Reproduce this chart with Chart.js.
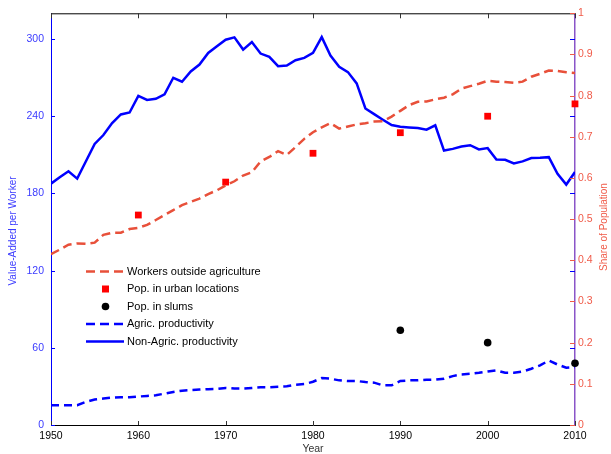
<!DOCTYPE html>
<html>
<head>
<meta charset="utf-8">
<title>Value added per worker and share of population</title>
<script src="https://cdn.jsdelivr.net/npm/chart.js@4.4.1/dist/chart.umd.min.js"></script>
<style>
  html, body { margin: 0; padding: 0; background: #fff; }
  canvas { display: block; }
</style>
</head>
<body>
<canvas id="chart" width="611" height="454"></canvas>
<script>
// ---- data ----
const years = [1950, 1951, 1952, 1953, 1954, 1955, 1956, 1957, 1958, 1959,
               1960, 1961, 1962, 1963, 1964, 1965, 1966, 1967, 1968, 1969,
               1970, 1971, 1972, 1973, 1974, 1975, 1976, 1977, 1978, 1979,
               1980, 1981, 1982, 1983, 1984, 1985, 1986, 1987, 1988, 1989,
               1990, 1991, 1992, 1993, 1994, 1995, 1996, 1997, 1998, 1999,
               2000, 2001, 2002, 2003, 2004, 2005, 2006, 2007, 2008, 2009,
               2010];

// value added per worker, left axis
const nonAgricProd = [187.6, 192.5, 197.2, 191.5, 205.0, 218.5, 225.4, 234.7, 241.4, 242.9,
                      255.8, 252.7, 253.5, 257.0, 269.9, 266.8, 274.8, 280.2, 289.2, 294.4,
                      299.5, 301.3, 291.8, 297.7, 288.7, 286.1, 278.9, 279.4, 283.5, 285.3,
                      289.2, 301.5, 287.1, 278.4, 274.3, 265.5, 246.0, 241.6, 237.3, 233.1,
                      231.9, 231.3, 230.8, 229.5, 232.9, 213.3, 214.6, 216.4, 217.5, 214.2,
                      215.2, 206.4, 206.1, 203.3, 204.9, 207.5, 207.7, 208.2, 195.3, 186.9,
                      196.7];
const agricProd = [15.4, 15.4, 15.4, 15.4, 18.0, 19.8, 20.6, 21.3, 21.6, 21.6,
                   22.1, 22.6, 23.1, 24.4, 25.7, 26.7, 27.2, 27.5, 27.8, 28.0,
                   28.8, 28.3, 28.3, 28.8, 29.3, 29.3, 29.8, 30.1, 31.3, 31.8,
                   33.6, 36.5, 36.0, 34.7, 34.2, 34.2, 33.4, 32.9, 30.8, 30.8,
                   34.2, 34.7, 34.7, 35.2, 35.2, 36.0, 38.0, 39.3, 39.8, 40.6,
                   41.6, 42.4, 40.6, 40.6, 41.6, 43.7, 46.3, 50.1, 47.0, 44.5,
                   45.0];

// shares of population, right axis
const workersOutsideAgri = [0.415, 0.426, 0.438, 0.441, 0.440, 0.443, 0.462, 0.467, 0.467, 0.476,
                            0.479, 0.486, 0.498, 0.510, 0.522, 0.534, 0.542, 0.550, 0.561, 0.570,
                            0.582, 0.592, 0.606, 0.614, 0.640, 0.651, 0.665, 0.656, 0.675, 0.695,
                            0.711, 0.723, 0.733, 0.720, 0.725, 0.730, 0.733, 0.737, 0.738, 0.749,
                            0.763, 0.777, 0.785, 0.786, 0.791, 0.795, 0.803, 0.817, 0.823, 0.829,
                            0.836, 0.834, 0.833, 0.831, 0.834, 0.846, 0.853, 0.861, 0.860, 0.857,
                            0.855];
const urbanYears = [1960, 1970, 1980, 1990, 2000, 2010];
const urbanShare = [0.51, 0.59, 0.66, 0.71, 0.75, 0.78];
const slumYears = [1990, 2000, 2010];
const slumShare = [0.23, 0.20, 0.15];

const xTicks = [1950, 1960, 1970, 1980, 1990, 2000, 2010];
const leftTicks = [0, 60, 120, 180, 240, 300];
const rightTicks = [0, 0.1, 0.2, 0.3, 0.4, 0.5, 0.6, 0.7, 0.8, 0.9, 1];

const legendLabels = ['Workers outside agriculture', 'Pop. in urban locations', 'Pop. in slums',
                      'Agric. productivity', 'Non-Agric. productivity'];

// ---- styles ----
const BLUE = '#0000ff';
const BLUE_TXT = '#3b3bff';
const RED_LINE = '#e8503a';
const RED_TXT = '#f05a48';
const RED_MARK = '#ff0000';
const FONT = 'Arial, "Liberation Sans", sans-serif';

const pairs = (xs, ys) => xs.map((x, i) => ({ x: x, y: ys[i] }));

function verticalText(ctx, text, x, y, color) {
    ctx.save();
    ctx.fillStyle = color;
    ctx.font = '10px ' + FONT;
    ctx.textAlign = 'center';
    ctx.textBaseline = 'middle';
    ctx.translate(x, y);
    ctx.rotate(-Math.PI / 2);
    ctx.fillText(text, 0, 0);
    ctx.restore();
}

// inward tick marks, top frame line, axis titles and the legend
const decorPlugin = {
    id: 'decor',
    afterDraw(chart) {
        const ctx = chart.ctx;
        const a = chart.chartArea;
        const sx = chart.scales.x, sy = chart.scales.y, sy2 = chart.scales.y2;
        ctx.save();
        ctx.lineWidth = 1;

        // top frame line
        ctx.strokeStyle = '#000';
        ctx.beginPath();
        ctx.moveTo(a.left, a.top + 0.5);
        ctx.lineTo(a.right, a.top + 0.5);
        ctx.stroke();

        // x ticks, bottom (up) and top (down)
        ctx.strokeStyle = '#333';
        ctx.beginPath();
        xTicks.forEach(v => {
            const px = Math.round(sx.getPixelForValue(v)) + 0.5;
            ctx.moveTo(px, a.bottom); ctx.lineTo(px, a.bottom - 4);
            ctx.moveTo(px, a.top); ctx.lineTo(px, a.top + 5);
        });
        ctx.stroke();

        // left axis ticks, on both sides
        ctx.strokeStyle = BLUE;
        ctx.beginPath();
        leftTicks.forEach(v => {
            const py = Math.round(sy.getPixelForValue(v)) + 0.5;
            ctx.moveTo(a.left, py); ctx.lineTo(a.left + 4, py);
            ctx.moveTo(a.right, py); ctx.lineTo(a.right - 5, py);
        });
        ctx.stroke();

        // right axis ticks
        ctx.strokeStyle = RED_TXT;
        ctx.beginPath();
        rightTicks.forEach(v => {
            const py = Math.round(sy2.getPixelForValue(v)) + 0.5;
            ctx.moveTo(a.right, py); ctx.lineTo(a.right - 5, py);
        });
        ctx.stroke();
        ctx.restore();

        // axis titles, both reading upwards
        verticalText(ctx, 'Value-Added per Worker', 13, 231, BLUE_TXT);
        verticalText(ctx, 'Share of Population', 604, 227, RED_TXT);

        // legend
        ctx.save();
        const x0 = 86, x1 = 124, tx = 127;
        const rowY = [271.5, 289, 306.5, 324, 341.5];
        ctx.font = '11px ' + FONT;
        ctx.fillStyle = '#000';
        ctx.textAlign = 'left';
        ctx.textBaseline = 'middle';
        legendLabels.forEach((t, i) => ctx.fillText(t, tx, rowY[i]));

        ctx.lineWidth = 2.5;
        ctx.setLineDash([9, 5]);
        ctx.strokeStyle = RED_LINE;
        ctx.beginPath(); ctx.moveTo(x0, rowY[0]); ctx.lineTo(x1, rowY[0]); ctx.stroke();
        ctx.strokeStyle = BLUE;
        ctx.beginPath(); ctx.moveTo(x0, rowY[3]); ctx.lineTo(x1, rowY[3]); ctx.stroke();
        ctx.setLineDash([]);
        ctx.beginPath(); ctx.moveTo(x0, rowY[4]); ctx.lineTo(x1, rowY[4]); ctx.stroke();

        ctx.fillStyle = RED_MARK;
        ctx.fillRect(102, rowY[1] - 3.5, 7, 7);
        ctx.fillStyle = '#000';
        ctx.beginPath(); ctx.arc(105.5, rowY[2], 3.8, 0, Math.PI * 2); ctx.fill();
        ctx.restore();
    }
};

new Chart(document.getElementById('chart'), {
    type: 'line',
    data: {
        datasets: [
            {
                label: legendLabels[0],
                data: pairs(years, workersOutsideAgri),
                yAxisID: 'y2',
                borderColor: RED_LINE,
                borderWidth: 2.5,
                borderDash: [9, 5],
                pointRadius: 0,
                tension: 0
            },
            {
                label: legendLabels[1],
                type: 'scatter',
                data: pairs(urbanYears, urbanShare),
                yAxisID: 'y2',
                pointStyle: 'rect',
                pointRadius: 4.8,
                backgroundColor: RED_MARK,
                borderColor: RED_MARK,
                borderWidth: 0,
                clip: false
            },
            {
                label: legendLabels[2],
                type: 'scatter',
                data: pairs(slumYears, slumShare),
                yAxisID: 'y2',
                pointStyle: 'circle',
                pointRadius: 3.8,
                backgroundColor: '#000',
                borderColor: '#000',
                borderWidth: 0,
                clip: false
            },
            {
                label: legendLabels[3],
                data: pairs(years, agricProd),
                yAxisID: 'y',
                borderColor: BLUE,
                borderWidth: 2.5,
                borderDash: [8, 5],
                pointRadius: 0,
                tension: 0
            },
            {
                label: legendLabels[4],
                data: pairs(years, nonAgricProd),
                yAxisID: 'y',
                borderColor: BLUE,
                borderWidth: 2.5,
                pointRadius: 0,
                tension: 0
            }
        ]
    },
    options: {
        responsive: false,
        animation: false,
        layout: { padding: { top: 10, left: 0, right: 0, bottom: 0 } },
        plugins: {
            legend: { display: false },
            tooltip: { enabled: false }
        },
        scales: {
            x: {
                type: 'linear',
                min: 1950,
                max: 2010,
                afterFit: s => { s.height = 29; },
                afterBuildTicks: s => { s.ticks = xTicks.map(v => ({ value: v })); },
                grid: { display: false, drawTicks: false },
                border: { display: true, color: '#000', width: 1 },
                ticks: {
                    color: '#000',
                    padding: 5,
                    font: { family: FONT, size: 10.5 },
                    callback: v => String(v)
                },
                title: {
                    display: true,
                    text: 'Year',
                    color: '#333',
                    padding: 0,
                    font: { family: FONT, size: 10.5, lineHeight: 0.9 }
                }
            },
            y: {
                position: 'left',
                min: 0,
                max: 320,
                afterFit: s => { s.width = 51; },
                afterBuildTicks: s => { s.ticks = leftTicks.map(v => ({ value: v })); },
                grid: { display: false, drawTicks: false },
                border: { display: true, color: BLUE, width: 1 },
                ticks: {
                    color: BLUE_TXT,
                    padding: 7,
                    font: { family: FONT, size: 10.5 }
                }
            },
            y2: {
                position: 'right',
                min: 0,
                max: 1,
                afterFit: s => { s.width = 36; },
                afterBuildTicks: s => { s.ticks = rightTicks.map(v => ({ value: v })); },
                grid: { display: false, drawTicks: false },
                border: { display: true, color: '#8a55c8', width: 1.5 },
                ticks: {
                    color: RED_TXT,
                    padding: 3,
                    font: { family: FONT, size: 10.5 },
                    callback: v => String(Math.round(v * 10) / 10)
                }
            }
        }
    },
    plugins: [decorPlugin]
});
</script>
</body>
</html>
